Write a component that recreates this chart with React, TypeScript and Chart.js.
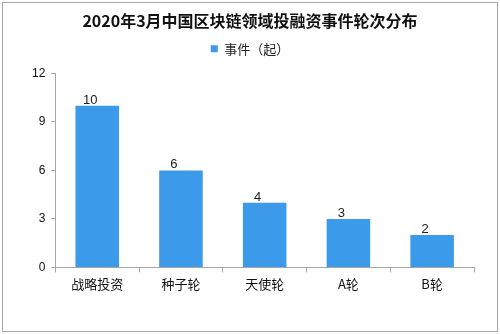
import React, { useEffect, useRef } from "react";
import { Chart, registerables } from "chart.js";

Chart.register(...registerables);

const categories = ["战略投资", "种子轮", "天使轮", "A轮", "B轮"];
const eventCounts = [10, 6, 4, 3, 2];
const yTicks = [0, 3, 6, 9, 12];
const titleText = "2020年3月中国区块链领域投融资事件轮次分布";
const seriesName = "事件（起）";

const CJK = '"Noto Sans CJK SC", "Liberation Sans", sans-serif';

const framePlugin = {
  id: "frame",
  beforeDraw(chart: any) {
    const ctx = chart.ctx;
    ctx.save();
    ctx.fillStyle = "#ffffff";
    ctx.fillRect(0, 0, chart.width, chart.height);
    ctx.strokeStyle = "#a6a6a6";
    ctx.lineWidth = 1;
    ctx.strokeRect(2.5, 2.5, chart.width - 5, chart.height - 5);
    ctx.restore();
  },
};

const labelPlugin = {
  id: "barLabels",
  afterDatasetsDraw(chart: any) {
    const ctx = chart.ctx;
    const meta = chart.getDatasetMeta(0);
    const data = chart.data.datasets[0].data;
    ctx.save();
    ctx.fillStyle = "#222222";
    ctx.font = '13px "Liberation Sans", sans-serif';
    ctx.textAlign = "center";
    ctx.textBaseline = "bottom";
    meta.data.forEach((bar: any, i: number) => {
      ctx.fillText(String(data[i]), bar.x - 7, bar.y + 1);
    });
    ctx.restore();
  },
};

export default function App() {
  const ref = useRef<HTMLCanvasElement | null>(null);
  useEffect(() => {
    if (!ref.current) return;
    const chart = new Chart(ref.current, {
      type: "bar",
      data: {
        labels: categories,
        datasets: [
          {
            label: seriesName,
            data: eventCounts,
            backgroundColor: "#3c9aea",
            borderWidth: 0,
            barPercentage: 0.52,
            categoryPercentage: 1,
          },
        ],
      },
      options: {
        animation: false,
        responsive: false,
        maintainAspectRatio: false,
        devicePixelRatio: 1,
        layout: { padding: { left: 26, right: 26, top: 0, bottom: 38 } },
        plugins: {
          title: {
            display: true,
            text: titleText,
            color: "#111111",
            font: { family: CJK, size: 16, weight: "bold" },
            padding: { top: 11, bottom: 4 },
          },
          legend: {
            display: true,
            labels: {
              color: "#222222",
              font: { family: CJK, size: 13 },
              boxWidth: 7,
              boxHeight: 7,
              padding: 8,
            },
          },
          subtitle: {
            display: true,
            text: "",
            weight: 500,
            font: { size: 1 },
            padding: { top: 3, bottom: 4 },
          },
          tooltip: { enabled: false },
        },
        scales: {
          x: {
            offset: true,
            grid: {
              display: true,
              offset: true,
              drawOnChartArea: false,
              drawTicks: true,
              tickLength: 5,
              color: "#a6a6a6",
            },
            border: { display: true, color: "#a6a6a6" },
            ticks: {
              color: "#111111",
              font: { family: CJK, size: 13 },
              padding: 4,
              maxRotation: 0,
            },
          },
          y: {
            min: 0,
            max: 12,
            afterBuildTicks: (axis: any) => {
              axis.ticks = yTicks.map((v) => ({ value: v }));
            },
            grid: {
              display: true,
              drawOnChartArea: false,
              drawTicks: true,
              tickLength: 4,
              color: "#a6a6a6",
            },
            border: { display: true, color: "#a6a6a6" },
            ticks: {
              color: "#111111",
              font: { family: '"Liberation Sans", sans-serif', size: 12 },
              padding: 6,
            },
          },
        },
      } as any,
      plugins: [framePlugin, labelPlugin],
    });
    return () => chart.destroy();
  }, []);
  return (
    <div style={{ position: "fixed", left: 0, top: 0, width: 500, height: 334 }}>
      <canvas ref={ref} width={500} height={334} style={{ width: 500, height: 334 }} />
    </div>
  );
}
